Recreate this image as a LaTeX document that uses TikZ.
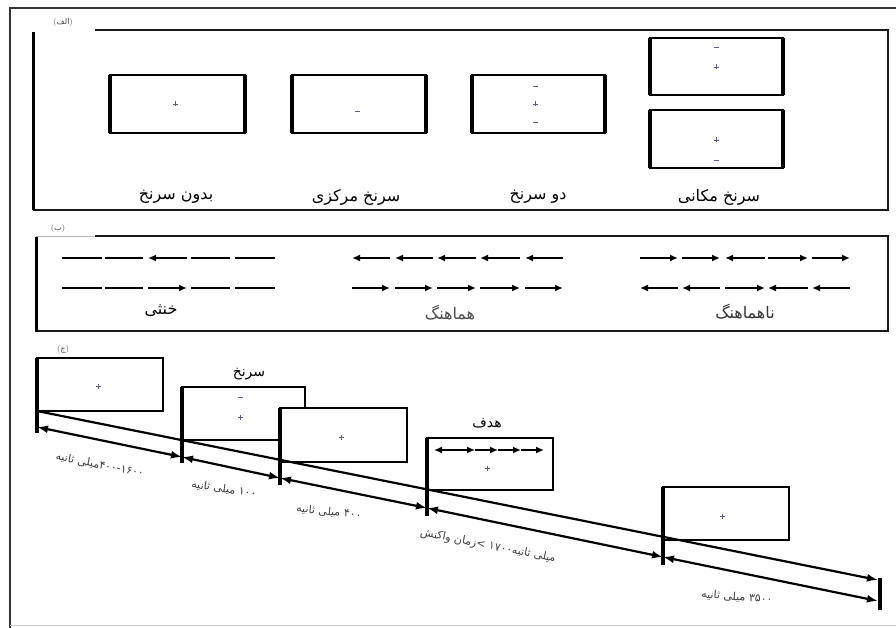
\documentclass[tikz,border=0pt]{standalone}
\usepackage{fontspec}
\usetikzlibrary{arrows.meta}
\newfontfamily\arabicfont[Script=Arabic]{DejaVu Sans}
\TeXXeTstate=1
\definecolor{markc}{RGB}{95,95,125}
\begin{document}
\begin{tikzpicture}[x=1pt,y=-1pt,
  outerline/.style={line width=1.8pt,black!80},
  panelline/.style={line width=2.2pt,black!90},
  cuebox/.style={draw,line width=2.4pt,rectangle,inner sep=0pt,outer sep=0pt,fill=white},
  thickside/.style={line width=4pt},
  lab/.style={font=\arabicfont\fontsize{16}{18}\selectfont,inner sep=0pt},
  blab/.style={font=\arabicfont\fontsize{14}{16}\selectfont,inner sep=0pt},
  tlab/.style={font=\arabicfont\fontsize{11}{13}\selectfont,inner sep=0pt,black!75},
  plab/.style={font=\fontsize{8}{9}\selectfont,inner sep=0pt,black!70},
  rarr/.style={line width=1.7pt,-{Latex[length=8pt,width=7pt]}},
  larr/.style={line width=1.7pt,{Latex[length=8pt,width=7pt]}-},
  plainseg/.style={line width=1.7pt},
  tarr/.style={line width=2.2pt,{Latex[length=11pt,width=8pt]}-{Latex[length=11pt,width=8pt]}},
  pm/.pic={\draw[markc,line width=0.8pt] (-2.5,0)--(2.5,0) (0,-2.5)--(0,2.5);},
  dm/.pic={\draw[markc,line width=0.8pt] (-2.5,0)--(2.5,0);}
]
\useasboundingbox (0,0) rectangle (896,628);
\fill[white] (0,0) rectangle (896,628);

% outer frame
\draw[outerline] (10,628) -- (10,8) -- (896,8);
\draw[gray!40,line width=1pt] (10,625) -- (896,625);

% ---------- panel (alef) ----------
\node[plab] (palef) at (63,22) {({\arabicfont الف})};
\draw[panelline] (95,30) -- (888,30) -- (888,210) -- (33,210);
\draw[line width=3pt] (33,32) -- (33,210);

\node[cuebox,minimum width=135pt,minimum height=58pt] (b1) at (177.5,104) {};
\node[cuebox,minimum width=134pt,minimum height=58pt] (b2) at (359,104) {};
\node[cuebox,minimum width=133pt,minimum height=58pt] (b3) at (538.5,104) {};
\node[cuebox,minimum width=133pt,minimum height=57pt] (b4) at (716.5,66.5) {};
\node[cuebox,minimum width=133pt,minimum height=58pt] (b5) at (716.5,139) {};
\foreach \b in {b1,b2,b3,b4,b5}{
  \draw[thickside] (\b.north west) -- (\b.south west);
  \draw[line width=3.2pt] (\b.north east) -- (\b.south east);
}
\pic at (175,104) {pm};
\pic at (357,111) {dm};
\pic at (535,86) {dm};
\pic at (535,104) {pm};
\pic at (535,122) {dm};
\pic at (716,47) {dm};
\pic at (716,67) {pm};
\pic at (716,140) {pm};
\pic at (716,160) {dm};

\node[lab] (l1) at (176,197) {\beginR بدون سرنخ\endR};
\node[lab] (l2) at (356,197) {\beginR سرنخ مرکزی\endR};
\node[lab] (l3) at (538,197) {\beginR دو سرنخ\endR};
\node[lab] (l4) at (719,197) {\beginR سرنخ مکانی\endR};

% ---------- panel (be) ----------
\node[plab] (pbe) at (58,229) {({\arabicfont ب})};
\draw[gray!55,line width=1pt] (36,237) -- (95,237);
\draw[panelline] (95,236) -- (888,236) -- (888,331) -- (36,331);
\draw[line width=3pt] (36,237) -- (36,332);

% neutral
\foreach \a/\b/\s in {62/102/plainseg,105/143/plainseg,148/187/larr,191/230/plainseg,235/275/plainseg}
  \draw[\s] (\a,258) -- (\b,258);
\foreach \a/\b/\s in {62/102/plainseg,105/143/plainseg,148/187/rarr,191/230/plainseg,235/275/plainseg}
  \draw[\s] (\a,288) -- (\b,288);
% congruent
\foreach \a/\b in {352/390,395/433,437/476,480/520,525/563}{
  \draw[larr] (\a,258) -- (\b,258);
  \draw[rarr] (\a,288) -- (\b,288);
}
% incongruent
\foreach \a/\b/\s in {640/678/rarr,682/720/rarr,725/765/larr,768/808/rarr,812/850/rarr}
  \draw[\s] (\a,258) -- (\b,258);
\foreach \a/\b/\s in {640/678/larr,682/720/larr,725/765/rarr,768/808/larr,812/850/larr}
  \draw[\s] (\a,288) -- (\b,288);

\node[lab] (l5) at (161,311) {\beginR خنثی\endR};
\node[lab,black!70] (l6) at (450,313) {\beginR هماهنگ\endR};
\node[lab,black!80] (l7) at (745,312) {\beginR ناهماهنگ\endR};

% ---------- panel (jim) ----------
\node[plab] (pjim) at (63,349) {({\arabicfont ج})};

\node[cuebox,line width=2pt,minimum width=126pt,minimum height=53pt] (A) at (100,384.5) {};
\node[cuebox,line width=2pt,minimum width=123pt,minimum height=53pt] (B) at (243.5,413.5) {};
\node[cuebox,line width=2pt,minimum width=127pt,minimum height=54pt] (C) at (343.5,435) {};
\node[cuebox,line width=2pt,minimum width=126pt,minimum height=52pt] (D) at (490,464) {};
\node[cuebox,line width=2pt,minimum width=126pt,minimum height=53pt] (E) at (726,513.5) {};

\pic at (98,386) {pm};
\pic at (240,397) {dm};
\pic at (240,417) {pm};
\pic at (341,437) {pm};
\pic at (487,468) {pm};
\pic at (722,516) {pm};

% arrows inside target
\foreach \a/\b/\s in {434/452/larr,452/475/rarr,475/498/rarr,498/521/rarr,521/544/rarr}
  \draw[\s,line width=1.5pt] (\a,450) -- (\b,450);

\node[blab] (lcue) at (249,374) {\beginR سرنخ\endR};
\node[blab] (ltgt) at (487,423) {\beginR هدف\endR};

% timeline coordinates
\coordinate (T0) at (37,427);
\coordinate (T1) at (182,457);
\coordinate (T2) at (280,478);
\coordinate (T3) at (427,508);
\coordinate (T4) at (663,557);
\coordinate (T5) at (878,601);
\coordinate (U1) at (878,580);
\coordinate (T0b) at (37,433);
\coordinate (T1b) at (182,463);
\coordinate (T2b) at (280,485);
\coordinate (T3b) at (427,516);
\coordinate (T4b) at (663,565);
\coordinate (T5t) at (880,578);
\coordinate (T5b) at (880,610);

% ticks = extended left sides
\draw[thickside] (A.north west) -- (T0b);
\draw[line width=3.2pt] (B.north west) -- (T1b);
\draw[line width=3.2pt] (C.north west) -- (T2b);
\draw[line width=3.2pt] (D.north west) -- (T3b);
\draw[line width=3.2pt] (E.north west) -- (T4b);
\draw[line width=3.2pt] (T5t) -- (T5b);

% upper line
\draw[line width=2.2pt,-{Latex[length=11pt,width=8pt]}] (A.south west) -- (U1);
% lower segments
\draw[tarr] (T0) -- (T1);
\draw[tarr] (T1) -- (T2);
\draw[tarr] (T2) -- (T3);
\draw[tarr] (T3) -- (T4);
\draw[tarr] (T4) -- (T5);

% time labels
\node[tlab,rotate=-11] (tl1) at (100,465) {\beginR\beginL ۴۰۰-۱۶۰۰\endL{}میلی ثانیه\endR};
\node[tlab,rotate=-8] (tl2) at (224,489) {\beginR\beginL ۱۰۰\endL{} میلی ثانیه\endR};
\node[tlab,rotate=-6] (tl3) at (329,512) {\beginR\beginL ۴۰۰\endL{} میلی ثانیه\endR};
\node[tlab,rotate=-11] (tl4) at (488,546) {\beginR میلی ثانیه\beginL ۱۷۰۰\endL{} >زمان واکنش\endR};
\node[tlab,rotate=-4] (tl5) at (737,597) {\beginR\beginL ۳۵۰۰\endL{} میلی ثانیه\endR};
\end{tikzpicture}
\end{document}
